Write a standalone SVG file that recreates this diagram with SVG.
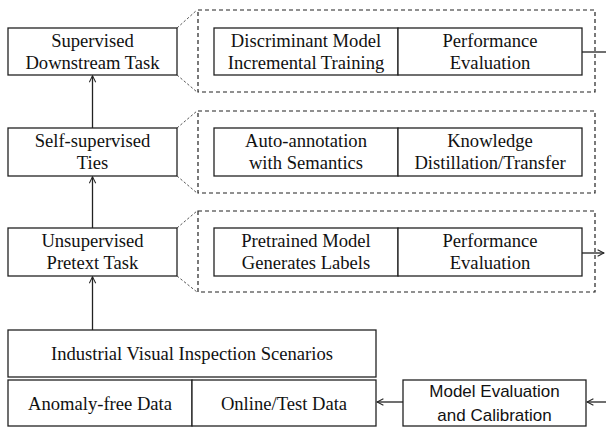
<svg xmlns="http://www.w3.org/2000/svg" width="606" height="427" viewBox="0 0 606 427">
<defs>
<style>
.box{fill:#fff;stroke:#222;stroke-width:1.3}
.dash{fill:none;stroke:#222;stroke-width:1.2;stroke-dasharray:4,3}
.diag{fill:none;stroke:#444;stroke-width:0.9;stroke-dasharray:2.5,2}
.ln{fill:none;stroke:#222;stroke-width:1.3}
.t{font-family:'Liberation Serif','Times New Roman',serif;font-size:18.6px;fill:#111;text-anchor:middle}
.s{font-family:'Liberation Sans',Arial,sans-serif;font-size:17px;fill:#111;text-anchor:middle}
</style>
<marker id="ah" viewBox="0 0 10 10" refX="9" refY="5" markerWidth="8" markerHeight="8" markerUnits="userSpaceOnUse" orient="auto">
<path d="M1,1 L9,5 L1,9" fill="none" stroke="#222" stroke-width="1.3"/>
</marker>
</defs>
<rect width="606" height="427" fill="#fff"/>

<g id="group-downstream">
<rect class="dash" x="198" y="10" width="397" height="82"/>
<g id="discriminant"><rect class="box" x="214" y="28" width="184" height="47"/><text class="t" font-family="Liberation Serif, serif" x="306" y="47">Discriminant Model</text><text class="t" font-family="Liberation Serif, serif" x="306" y="68.5">Incremental Training</text></g>
<g id="perf1"><rect class="box" x="398" y="28" width="184" height="47"/><text class="t" x="490" y="47">Performance</text><text class="t" x="490" y="68.5">Evaluation</text></g>
</g>
<g id="group-self">
<rect class="dash" x="198" y="111" width="397" height="82"/>
<g id="autoannot"><rect class="box" x="214" y="128" width="184" height="48"/><text class="t" x="306" y="147">Auto-annotation</text><text class="t" x="306" y="168.5">with Semantics</text></g>
<g id="knowledge"><rect class="box" x="398" y="128" width="184" height="48"/><text class="t" x="490" y="147">Knowledge</text><text class="t" x="490" y="168.5">Distillation/Transfer</text></g>
</g>
<g id="group-pretext">
<rect class="dash" x="198" y="211" width="397" height="81"/>
<g id="pretrained"><rect class="box" x="214" y="228" width="184" height="48"/><text class="t" x="306" y="247">Pretrained Model</text><text class="t" x="306" y="268.5">Generates Labels</text></g>
<g id="perf2"><rect class="box" x="398" y="228" width="184" height="48"/><text class="t" x="490" y="247">Performance</text><text class="t" x="490" y="268.5">Evaluation</text></g>
</g>

<g id="supervised"><rect class="box" x="8" y="28" width="169" height="47"/><text class="t" x="92.5" y="47">Supervised</text><text class="t" x="92.5" y="68.5">Downstream Task</text></g>
<g id="selfsup"><rect class="box" x="8" y="128" width="169" height="48"/><text class="t" x="92.5" y="147">Self-supervised</text><text class="t" x="92.5" y="168.5">Ties</text></g>
<g id="unsup"><rect class="box" x="8" y="228" width="169" height="48"/><text class="t" x="92.5" y="247">Unsupervised</text><text class="t" x="92.5" y="268.5">Pretext Task</text></g>
<g id="industrial"><rect class="box" x="8" y="330" width="368" height="47"/><text class="t" x="192" y="360">Industrial Visual Inspection Scenarios</text></g>
<g id="anomalyfree"><rect class="box" x="8" y="380" width="184" height="46"/><text class="t" x="100" y="410">Anomaly-free Data</text></g>
<g id="online"><rect class="box" x="192" y="380" width="184" height="46"/><text class="t" x="284" y="410">Online/Test Data</text></g>
<g id="modeleval"><rect class="box" x="403" y="380" width="183" height="46"/><text class="s" x="494.5" y="397">Model Evaluation</text><text class="s" x="494.5" y="421">and Calibration</text></g>

<g id="connectors">
<line class="ln" x1="92.5" y1="330" x2="92.5" y2="276.8" marker-end="url(#ah)"/>
<line class="ln" x1="92.5" y1="228" x2="92.5" y2="176.8" marker-end="url(#ah)"/>
<line class="ln" x1="92.5" y1="128" x2="92.5" y2="75.8" marker-end="url(#ah)"/>
<line class="diag" x1="177" y1="28" x2="197" y2="10"/>
<line class="diag" x1="177" y1="75" x2="197" y2="92"/>
<line class="diag" x1="177" y1="128" x2="197" y2="111"/>
<line class="diag" x1="177" y1="176" x2="197" y2="193"/>
<line class="diag" x1="177" y1="228" x2="197" y2="211"/>
<line class="diag" x1="177" y1="276" x2="197" y2="292"/>
<line class="ln" x1="582" y1="52" x2="606" y2="52"/>
<line class="ln" x1="582" y1="253" x2="604" y2="253" marker-end="url(#ah)"/>
<line class="ln" x1="606" y1="402" x2="587" y2="402" marker-end="url(#ah)"/>
<line class="ln" x1="403" y1="402" x2="377" y2="402" marker-end="url(#ah)"/>
</g>
</svg>
